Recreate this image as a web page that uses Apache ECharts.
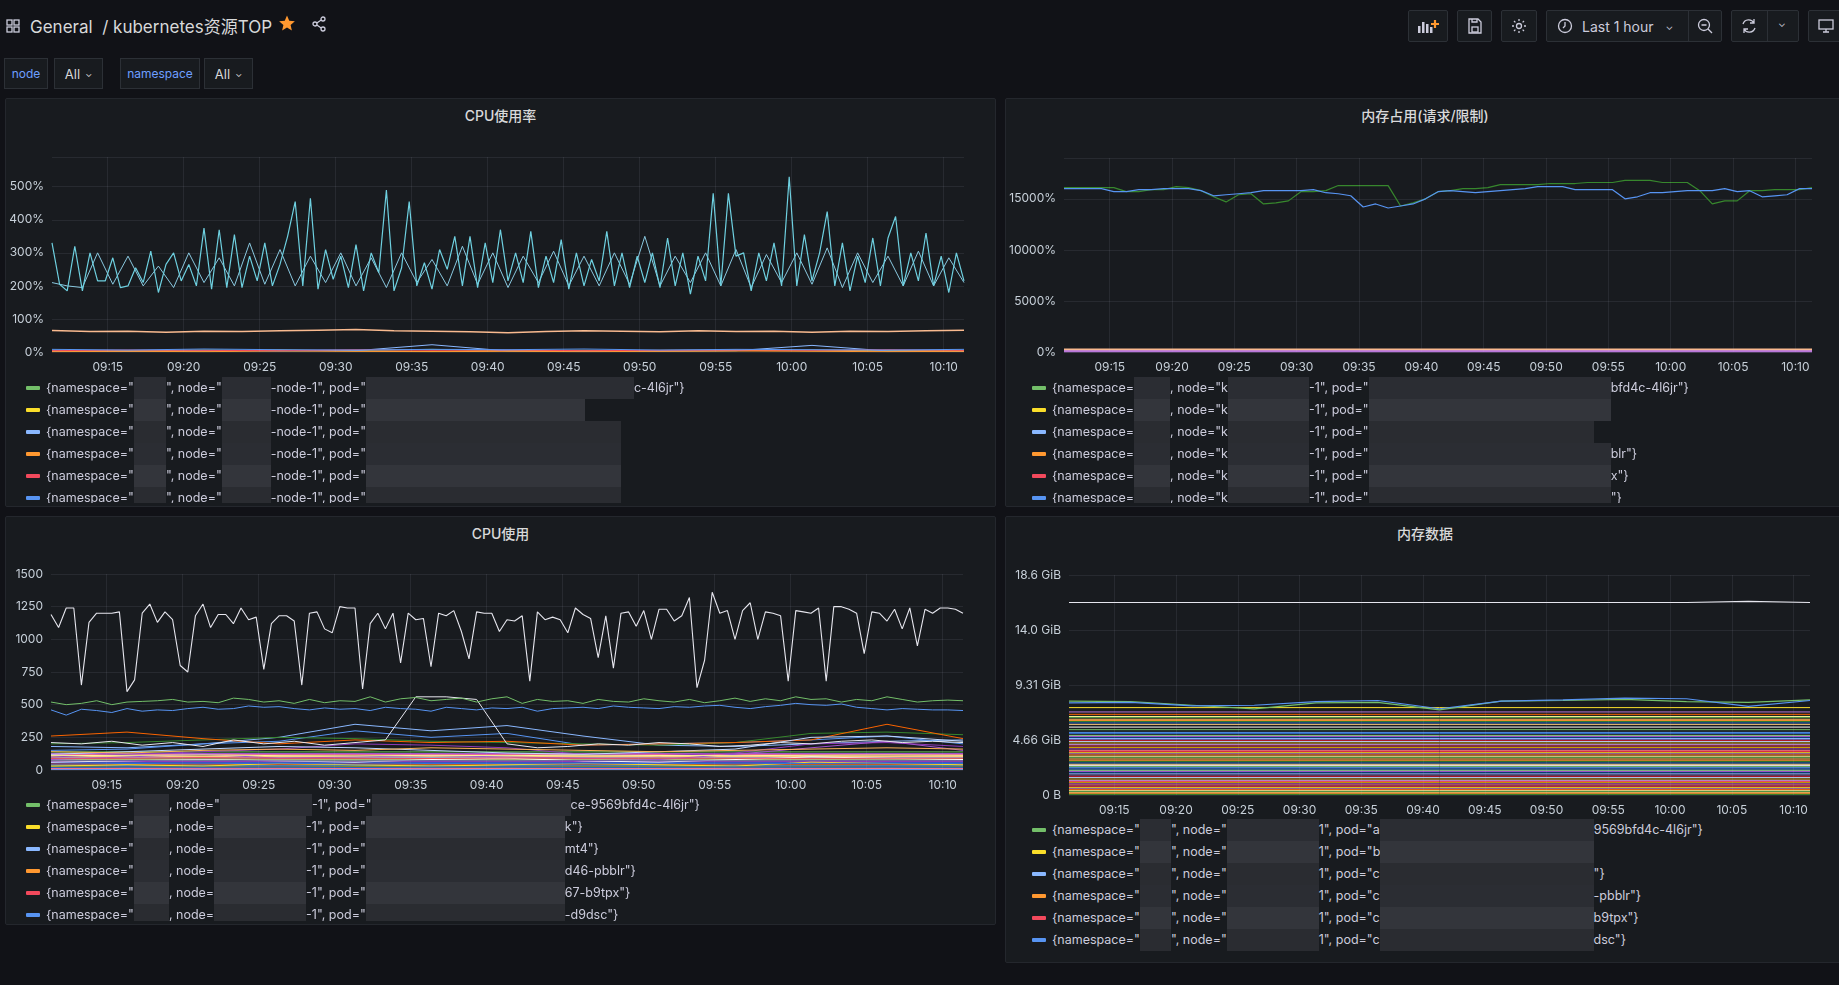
<!DOCTYPE html>
<html><head><meta charset="utf-8">
<script src="https://cdn.jsdelivr.net/npm/echarts@6/dist/echarts.min.js"></script>
<style>
html,body{margin:0;padding:0;background:#111217;width:1839px;height:985px;overflow:hidden;font-family:Inter,"Noto Sans CJK SC",sans-serif;color:#ccccdc}
.abs{position:absolute}
.panel{position:absolute;background:#181b1f;border:1px solid #24272d;border-radius:2px;box-sizing:border-box;overflow:hidden}
.ptitle{position:absolute;left:0;right:0;top:6px;text-align:center;font-size:14px;font-weight:500;color:#d8d9da}
.legend{position:absolute;overflow:hidden;font-size:12.5px;color:#ccccdc}
.row{height:22px;line-height:22px;white-space:nowrap;display:flex;align-items:center}
.sw{display:inline-block;width:14px;height:4px;border-radius:1px;margin-right:6px}
.blk{display:inline-block;height:22px;vertical-align:middle}
.btn{position:absolute;top:10px;height:32px;background:#181b1f;border:1px solid #2c3036;border-radius:2px;box-sizing:border-box;display:flex;align-items:center;justify-content:center;color:#ccccdc;font-size:14px}
.var{position:absolute;top:58px;height:31px;background:#181b1f;border:1px solid #2c3036;box-sizing:border-box;display:flex;align-items:center;justify-content:center;font-size:12px}
</style></head><body>
<div id="root"></div>
<script>
// ---------- data ----------
const T0 = new Date(2024,0,1,9,11,20).getTime();
const cpuPctMain = [330,205,185,320,185,300,215,215,285,195,200,255,210,305,180,265,300,215,265,200,375,190,370,195,355,195,290,215,330,200,265,350,455,200,465,190,310,220,290,195,325,185,300,240,490,185,255,455,200,270,190,310,250,350,200,350,195,330,210,370,215,300,210,365,195,290,210,340,190,300,200,280,215,365,200,300,195,290,210,300,195,345,200,300,175,290,215,480,200,480,290,300,185,300,215,330,200,530,200,355,215,300,425,200,330,185,290,210,345,200,345,410,200,300,215,360,200,290,180,300,215];
const cpuPctSecond = [210,200,195,300,205,290,200,260,195,300,210,285,200,330,205,310,200,290,210,300,200,285,195,300,210,280,200,320,205,300,195,290,210,305,200,290,200,300,205,350,200,290,210,300,200,310,195,295,210,300,205,315,195,300,210,290,200,305,200,285,210];
const cpuPctOrange = [65,62,63,60,63,62,64,66,68,64,63,61,58,62,64,63,61,64,62,63,60,63,62,64,66];
const cpuPctSmall = [
 [5,3,6,4,5,8,4,3,5,6,4,5,3],[2,4,3,6,3,2,4,5,3,4,6,3,4],[3,2,4,3,4,22,3,2,3,4,20,3,2],
 [1,2,1,3,2,1,2,1,2,3,2,1,2],[4,6,5,4,7,5,6,4,5,6,5,7,5],[8,6,9,7,6,8,7,9,6,8,7,6,8]];
const cpuWhite = [1190,1090,1240,1240,650,1130,1200,1200,1200,1210,600,690,1200,1270,1130,1210,1150,800,750,1180,1270,1090,1190,1190,1120,1240,1150,1170,770,1120,1180,1180,1140,650,1200,1210,1080,1050,1250,1240,1240,620,1120,1200,1080,1200,820,1200,1150,1160,790,1200,1180,1220,1060,850,1210,1200,1200,1060,1150,1140,1180,680,1210,1150,1170,1150,1050,1240,1190,1160,860,1180,780,1200,1210,1100,1220,1000,1230,1230,1140,1180,1320,630,840,1360,1200,1220,1000,1220,1280,1000,1210,1200,1180,680,1220,1210,1200,1240,680,1250,1250,1230,1200,890,1210,1200,1140,1230,1080,1240,950,1230,1200,1240,1240,1230,1200];
const cpuGreen = [520,500,510,530,500,520,525,530,540,520,525,515,550,540,520,530,510,540,515,530,525,560,520,545,555,530,540,550,520,545,560,510,540,525,530,510,540,525,520,545,530,520,540,515,530,550,525,545,530,560,540,545,520,540,530,560,540,520,530,535,530];
const cpuBlue = [460,420,465,455,440,470,450,460,455,470,480,465,470,490,480,485,470,460,475,465,470,455,480,470,465,450,480,470,460,475,470,480,450,470,475,480,470,490,480,475,470,485,480,490,495,480,470,485,495,510,500,495,505,480,470,460,470,465,460,460,455];
const cpuWhite2 = [210,200,220,190,210,180,230,200,220,190,210,230,560,560,540,200,170,180,200,190,210,200,180,190,210,200,220,230,210,220,210];
const cpuMid = [
 [180,170,200,250,350,300,340,260,190,180,200,220,230],[150,160,200,220,300,250,280,190,200,210,230,260,200],
 [200,210,230,250,240,220,210,200,190,210,280,290,270],[260,290,240,200,230,210,220,190,200,210,230,350,240],
 [100,120,140,160,200,190,170,120,110,130,200,210,180],[120,140,160,180,170,150,130,120,140,160,250,260,220],
 [80,100,120,90,100,110,100,90,80,120,170,220,150],[60,70,80,70,60,80,90,70,60,80,100,90,80],
 [140,130,150,160,150,170,160,150,140,150,160,170,160],[30,40,30,50,40,30,40,50,40,30,60,50,40],
 [90,90,95,90,90,88,92,90,91,90,89,90,90],[70,72,75,70,68,72,70,73,71,70,72,74,72],
 [45,50,48,52,46,50,49,47,51,48,50,52,49],[20,25,22,24,20,23,25,21,22,24,23,25,22],
 [110,112,115,110,108,112,110,113,111,110,112,114,112],[10,12,8,10,11,9,12,10,11,9,10,12,10]];
const cpuFlat = [5,12,18,25,32,38,44,52,58,64,76,84,98,104,118,126,138];
const memPctGreen = [16100,16100,16100,16100,16100,15700,15700,15900,15900,16200,16100,15800,15200,14700,15400,15500,14500,14600,14800,15700,15700,15800,16300,16300,16300,16300,16300,14300,14600,15000,15700,15800,16000,16000,16100,16400,16400,16400,16400,16500,16500,16500,16600,16600,16600,16800,16800,16800,16600,16600,16600,15800,14500,14800,14800,15800,15800,15900,15900,15900,16100];
const memPctBlue = [16000,16000,16000,16000,15700,15700,15900,15900,16000,16000,16000,15800,15300,15400,15500,15600,15800,15800,15800,15800,15900,15600,15500,15300,14200,14500,14100,14300,14500,15000,15700,15800,15700,15600,15700,15800,15900,16000,16200,16200,16200,15900,15900,15900,15900,15000,15200,15600,15600,15700,15800,15800,15800,16000,15700,15800,15200,15300,15400,16000,16000];
const memPctLow = [[150,150],[250,250],[80,80]];
const memWhiteGiB = [16.3,16.3,16.3,16.3,16.3,16.3,16.3,16.3,16.3,16.3,16.3,16.4,16.3];
const memGreenGiB = [7.95,7.9,7.6,7.3,7.8,7.85,7.2,7.95,8.0,8.1,7.9,7.85,8.05];
const memBlueGiB = [7.8,7.85,7.55,7.6,7.9,8.0,7.3,7.95,8.05,8.2,8.15,7.5,8.0];
const memFlatGiB = [7.4,7.03,6.83,6.65,6.55,6.41,6.3,6.21,6.1,5.98,5.75,5.53,5.3,5.22,5.05,4.95,4.86,4.78,4.69,4.6,4.52,4.4,4.29,4.15,4.01,3.9,3.78,3.68,3.58,3.48,3.39,3.28,3.16,3.05,2.94,2.82,2.71,2.6,2.51,2.4,2.31,2.2,2.09,1.99,1.89,1.79,1.69,1.58,1.47,1.35,1.24,1.14,1.04,0.95,0.85,0.74,0.62,0.52,0.45,0.36,0.28,0.2,0.11,0.05];
const xTicks = ['09:15','09:20','09:25','09:30','09:35','09:40','09:45','09:50','09:55','10:00','10:05','10:10'];
const palette = ['#73BF69','#FADE2A','#8AB8FF','#FF9830','#F2495C','#5794F2','#B877D9','#705DA0','#37872D','#E0B400','#3274D9','#FA6400','#C4162A','#1F60C4','#8F3BB8','#96D98D','#FFF899','#C0D8FF','#FFCB7D','#FF7383','#A352CC','#56A64B','#CC9D00','#FFFFFF','#E02F44','#0A437C','#FFB357','#CA95E5'];

// ---------- helpers ----------
const root=document.getElementById('root');
function el(tag,cls,style,html,parent){const e=document.createElement(tag);if(cls)e.className=cls;if(style)e.style.cssText=style;if(html!==undefined)e.innerHTML=html;(parent||root).appendChild(e);return e;}
const pts=(vals,stepMin)=>vals.map((v,i)=>[T0+i*stepMin*60000,v]);
const GiB=1024*1024*1024;
const tickVals=xTicks.map(s=>{const [h,m]=s.split(':').map(Number);return new Date(2024,0,1,h,m,0).getTime();});
function ln(data,color,w,z){return {type:'line',data,showSymbol:false,symbol:'none',silent:true,animation:false,lineStyle:{color,width:w||1},itemStyle:{color},z:z||2};}
function pad(n){return (n<10?'0':'')+n;}
function gridLines(){return {type:'line',data:[],silent:true,animation:false,z:1,
  markLine:{silent:true,symbol:'none',label:{show:false},animation:false,lineStyle:{color:'rgba(204,204,220,0.09)',type:'solid',width:1},
  data:tickVals.map(v=>({xAxis:v}))}};}
function xAxis(){return {type:'value',min:T0,max:T0+3600000,
  axisLine:{show:false},axisTick:{show:false},
  axisLabel:{color:'#c7d0d9',fontSize:12,fontFamily:'Inter',margin:9,customValues:tickVals,
   formatter:v=>{const d=new Date(v);return pad(d.getHours())+':'+pad(d.getMinutes());}},
  splitLine:{show:false}};}
function yAxis(o){return Object.assign({type:'value',axisLine:{show:false},axisTick:{show:false},
  splitLine:{lineStyle:{color:'rgba(204,204,220,0.09)'}}},o);}

// ---------- header ----------
el('div','abs','left:6px;top:17px;width:14px;height:14px','<svg width="14" height="14" viewBox="0 0 14 14" fill="none" stroke="#ccccdc" stroke-width="1.3"><rect x="1" y="1" width="5" height="5"/><rect x="8" y="1" width="5" height="5"/><rect x="1" y="8" width="5" height="5"/><rect x="8" y="8" width="5" height="5"/></svg>');
el('div','abs','left:30px;top:13px;font-size:17px;color:#d8d9da;white-space:nowrap','General&nbsp; / kubernetes资源TOP');
el('div','abs','left:278px;top:14px','<svg width="18" height="18" viewBox="0 0 24 24"><path fill="#FF9830" d="M12 2l3 6.9 7.5.7-5.7 5 1.7 7.4L12 18.1 5.5 22l1.7-7.4-5.7-5 7.5-.7z"/></svg>');
el('div','abs','left:311px;top:16px','<svg width="16" height="16" viewBox="0 0 16 16" fill="none" stroke="#ccccdc" stroke-width="1.3"><circle cx="12" cy="3" r="2"/><circle cx="4" cy="8" r="2"/><circle cx="12" cy="13" r="2"/><path d="M5.8 7l4.4-3M5.8 9l4.4 3"/></svg>');
el('div','btn','left:1408px;width:40px','<svg width="22" height="16" viewBox="0 0 22 16"><rect x="1" y="8" width="2.5" height="7" fill="#ccccdc"/><rect x="5" y="4" width="2.5" height="11" fill="#ccccdc"/><rect x="9" y="6" width="2.5" height="9" fill="#ccccdc"/><rect x="13" y="9" width="2.5" height="6" fill="#ccccdc"/><path d="M18 2v8M14 6h8" stroke="#FF9830" stroke-width="2.2"/></svg>');
el('div','btn','left:1457px;width:35px','<svg width="14" height="16" viewBox="0 0 14 16" fill="none" stroke="#ccccdc" stroke-width="1.3"><path d="M1 1h9l3 3v11H1z"/><rect x="4" y="9" width="6" height="5"/><path d="M4 1v3h5V1"/></svg>');
el('div','btn','left:1501px;width:36px','<svg width="16" height="16" viewBox="0 0 16 16" fill="none" stroke="#ccccdc" stroke-width="1.3"><circle cx="8" cy="8" r="2.5"/><path d="M8 1v2M8 13v2M1 8h2M13 8h2M3 3l1.4 1.4M11.6 11.6L13 13M3 13l1.4-1.4M11.6 4.4L13 3"/></svg>');
el('div','btn','left:1546px;width:176px;justify-content:flex-start;padding-left:10px','<svg width="16" height="16" viewBox="0 0 16 16" fill="none" stroke="#ccccdc" stroke-width="1.3"><circle cx="8" cy="8" r="6.5"/><path d="M8 4v4l-2 2"/></svg><span style="margin-left:9px">Last 1 hour</span><span style="margin-left:12px;font-size:10px">&#8964;</span><span style="position:absolute;left:141px;top:0;bottom:0;border-left:1px solid #2c3036"></span><span style="position:absolute;left:150px;top:7px"><svg width="16" height="16" viewBox="0 0 16 16" fill="none" stroke="#ccccdc" stroke-width="1.3"><circle cx="7" cy="7" r="5.5"/><path d="M4.5 7h5M11 11l4 4"/></svg></span>');
el('div','btn','left:1731px;width:68px;justify-content:flex-start;padding-left:9px','<svg width="16" height="18" viewBox="0 0 16 18" fill="none" stroke="#ccccdc" stroke-width="1.3"><path d="M13 6a6 6 0 0 0-11 1M3 12a6 6 0 0 0 11-1M13 2v4H9M3 16v-4h4"/></svg><span style="position:absolute;left:35px;top:0;bottom:0;border-left:1px solid #2c3036"></span><span style="position:absolute;left:46px;top:6px;font-size:10px">&#8964;</span>');
el('div','btn','left:1808px;width:40px;justify-content:flex-start;padding-left:9px','<svg width="16" height="16" viewBox="0 0 16 16" fill="none" stroke="#ccccdc" stroke-width="1.3"><rect x="1" y="2" width="14" height="9"/><path d="M5 14h6M8 11v3"/></svg>');
// variables
el('div','var','left:4px;width:44px;color:#6e9fff','node');
el('div','var','left:54px;width:49px;color:#d8d9da;font-size:13px','All <span style="font-size:9px;margin-left:5px">&#8964;</span>');
el('div','var','left:120px;width:80px;color:#6e9fff','namespace');
el('div','var','left:204px;width:49px;color:#d8d9da;font-size:13px','All <span style="font-size:9px;margin-left:5px">&#8964;</span>');

// ---------- panels ----------
function panel(cfg){
  const p=el('div','panel',`left:${cfg.x}px;top:${cfg.y}px;width:${cfg.w}px;height:${cfg.h}px`);
  el('div','ptitle','',cfg.title,p);
  const c=el('div','',`position:absolute;left:0;top:0;width:${cfg.w}px;height:${cfg.ch}px`,undefined,p);
  const lg=el('div','legend',`left:${cfg.lx}px;top:${cfg.ly}px;width:${cfg.w-cfg.lx-10}px;height:${cfg.lh}px`,undefined,p);
  cfg.rows.forEach((r,i)=>{
    const row=el('div','row','',undefined,lg);
    el('span','sw','background:'+palette[i],'',row);
    r.forEach(seg=>{
      if(typeof seg==='number'){el('span','blk',`width:${seg}px;background:${['#2b2d33','#33353b','#2a2c31'][i%3]}`,'',row);}
      else el('span','',  'white-space:pre',seg.replace(/</g,'&lt;'),row);
    });
  });
  const chart=echarts.init(c,null,{renderer:'canvas'});
  chart.setOption({animation:false,grid:cfg.grid,xAxis:xAxis(),yAxis:cfg.y2,series:[gridLines()].concat(cfg.series)});
}
const lab=o=>Object.assign({color:'#c7d0d9',fontSize:12,fontFamily:'Inter'},o);
// panel 1 series
const s1=[];
cpuPctSmall.forEach((v,i)=>s1.push(ln(pts(v,5),palette[i])));
s1.push(ln(pts(cpuPctOrange,2.5),'#F9BA8F',1.5));
s1.push(ln(pts(cpuPctSecond,1),'#8ac9e0',1));
s1.push(ln(pts(cpuPctMain,0.5),'#6ED0E0',1.2,3));
panel({x:5,y:98,w:991,h:409,title:'CPU使用率',ch:290,
 grid:{left:46,right:33,top:58,bottom:37},
 y2:yAxis({min:0,max:590,interval:100,axisLabel:lab({showMaxLabel:false,formatter:v=>v+'%'})}),
 series:s1,lx:20,ly:278,lh:126,
 rows:[['{namespace="',32,'", node="',49,'-node-1", pod="',268,'c-4l6jr"}'],['{namespace="',32,'", node="',49,'-node-1", pod="',219,''],['{namespace="',32,'", node="',49,'-node-1", pod="',255,''],['{namespace="',32,'", node="',49,'-node-1", pod="',255,''],['{namespace="',32,'", node="',49,'-node-1", pod="',255,''],['{namespace="',32,'", node="',49,'-node-1", pod="',255,'']]});
// panel 2
const s2=[];
memPctLow.forEach((v,i)=>s2.push(ln(pts(v,60),['#E5A8E2','#F9BA8F','#B877D9'][i],2)));
s2.push(ln(pts(memPctGreen,1),'#37872D',1.2));
s2.push(ln(pts(memPctBlue,1),'#5794F2',1.2));
panel({x:1005,y:98,w:840,h:409,title:'内存占用(请求/限制)',ch:290,
 grid:{left:58,right:34,top:59,bottom:37},
 y2:yAxis({min:0,max:19000,interval:5000,axisLabel:lab({showMaxLabel:false,formatter:v=>v+'%'})}),
 series:s2,lx:26,ly:278,lh:126,
 rows:[['{namespace=',36,', node="k',81,'-1", pod="',242,'bfd4c-4l6jr"}'],['{namespace=',36,', node="k',81,'-1", pod="',242,''],['{namespace=',36,', node="k',81,'-1", pod="',225,''],['{namespace=',36,', node="k',81,'-1", pod="',242,'blr"}'],['{namespace=',36,', node="k',81,'-1", pod="',242,'x"}'],['{namespace=',36,', node="k',81,'-1", pod="',242,'"}']]});
// panel 3
const s3=[];
cpuFlat.forEach((v,i)=>s3.push(ln(pts([v,v],60),palette[(i+5)%palette.length],1.2)));
cpuMid.forEach((v,i)=>s3.push(ln(pts(v,5),palette[(i*3+2)%palette.length])));
s3.push(ln(pts(cpuWhite2,2),'#e8e8f0'));
s3.push(ln(pts(cpuBlue,1),'#5794F2'));
s3.push(ln(pts(cpuGreen,1),'#73BF69'));
s3.push(ln(pts(cpuWhite,0.5),'#e6e6ee',1.1,3));
panel({x:5,y:516,w:991,h:409,title:'CPU使用',ch:278,
 grid:{left:45,right:34,top:57,bottom:25},
 y2:yAxis({min:0,max:1500,interval:250,axisLabel:lab({formatter:v=>String(v)})}),
 series:s3,lx:20,ly:277,lh:127,
 rows:[['{namespace="',35,', node="',92,'-1", pod="',199,'ce-9569bfd4c-4l6jr"}'],['{namespace="',35,', node=',92,'-1", pod="',199,'k"}'],['{namespace="',35,', node=',92,'-1", pod="',199,'mt4"}'],['{namespace="',35,', node=',92,'-1", pod="',199,'d46-pbblr"}'],['{namespace="',35,', node=',92,'-1", pod="',199,'67-b9tpx"}'],['{namespace="',35,', node=',92,'-1", pod="',199,'-d9dsc"}']]});
// panel 4
const s4=[];
memFlatGiB.forEach((v,i)=>s4.push(ln(pts([v*GiB,v*GiB],60),palette[(i*5+1)%palette.length],1)));
s4.push(ln(pts(memGreenGiB.map(v=>v*GiB),5),'#73BF69',1.2));
s4.push(ln(pts(memBlueGiB.map(v=>v*GiB),5),'#5794F2',1.2));
s4.push(ln(pts(memWhiteGiB.map(v=>v*GiB),5),'#e6e6ee',1.2));
panel({x:1005,y:516,w:840,h:447,title:'内存数据',ch:300,
 grid:{left:63,right:36,top:58,bottom:22},
 y2:yAxis({min:0,max:20e9,interval:5e9,axisLabel:lab({formatter:v=>{if(v===0)return '0 B';const g=v/GiB;return (g>=10?g.toFixed(1):g.toFixed(2))+' GiB';}})}),
 series:s4,lx:26,ly:302,lh:134,
 rows:[['{namespace="',31,'", node="',92,'1", pod="a',214,'9569bfd4c-4l6jr"}'],['{namespace="',31,'", node="',92,'1", pod="b',214,''],['{namespace="',31,'", node="',92,'1", pod="c',214,'"}'],['{namespace="',31,'", node="',92,'1", pod="c',214,'-pbblr"}'],['{namespace="',31,'", node="',92,'1", pod="c',214,'b9tpx"}'],['{namespace="',31,'", node="',92,'1", pod="c',214,'dsc"}']]});
</script>
</body></html>
